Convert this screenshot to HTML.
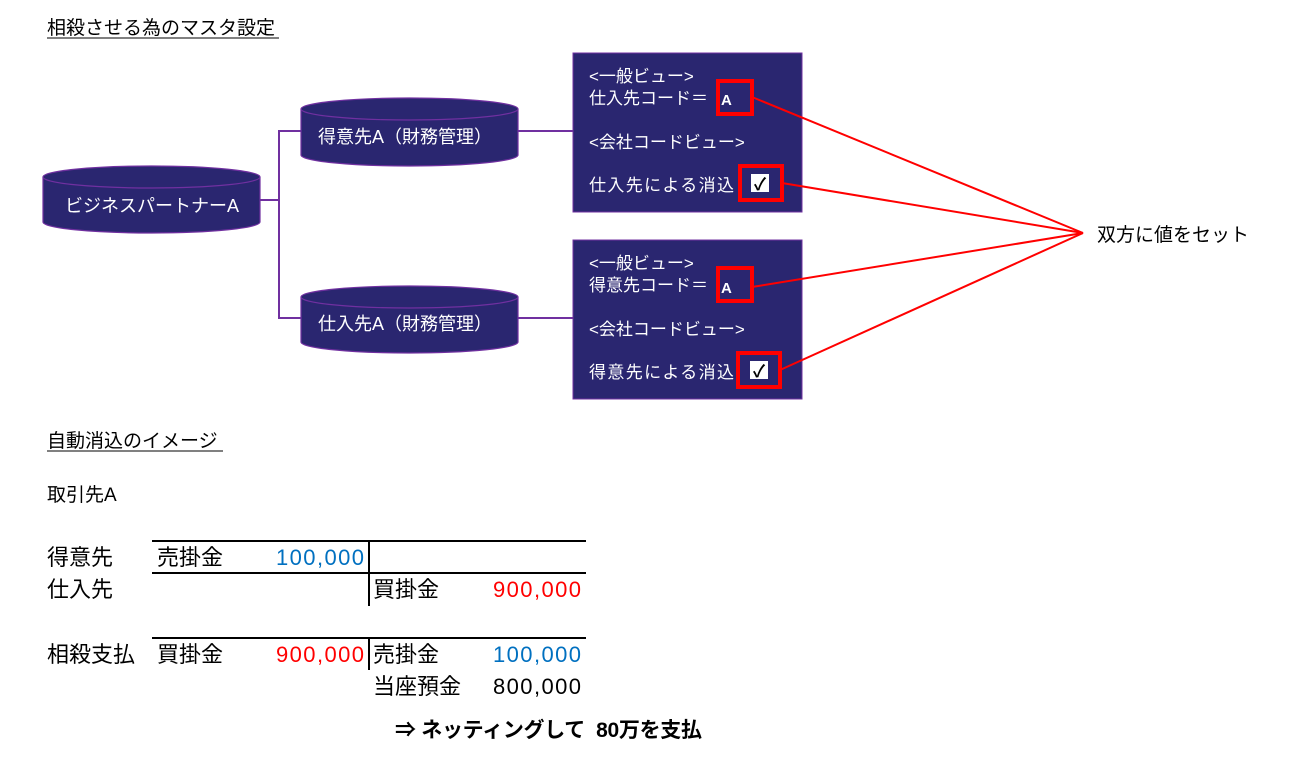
<!DOCTYPE html>
<html><head><meta charset="utf-8"><style>
html,body{margin:0;padding:0;background:#fff;}
svg text{font-family:"Liberation Sans","Noto Sans CJK JP",sans-serif;}
</style></head><body>
<svg width="1299" height="764" viewBox="0 0 1299 764" xmlns="http://www.w3.org/2000/svg">
<g font-size="19" fill="#000">
<text x="47" y="34">相殺させる為のマスタ設定</text>
<line x1="47" y1="38" x2="279" y2="38" stroke="#000" stroke-width="1"/>
</g>
<g stroke="#7030a0" stroke-width="2" fill="none">
<polyline points="260,200 279,200"/>
<polyline points="301,131 279,131 279,318 301,318"/>
<line x1="518" y1="131" x2="573" y2="131"/>
<line x1="518" y1="318" x2="573" y2="318"/>
</g>
<g fill="#2a2670" stroke="#7030a0" stroke-width="1.2">
<path d="M43,177 L43,222 A108.5,11 0 0 0 260,222 L260,177 A108.5,11 0 0 0 43,177 Z"/>
<path d="M43,177 A108.5,11 0 0 0 260,177" fill="none"/>
<path d="M301,109 L301,155 A108.5,11 0 0 0 518,155 L518,109 A108.5,11 0 0 0 301,109 Z"/>
<path d="M301,109 A108.5,11 0 0 0 518,109" fill="none"/>
<path d="M301,297 L301,342 A108.5,11 0 0 0 518,342 L518,297 A108.5,11 0 0 0 301,297 Z"/>
<path d="M301,297 A108.5,11 0 0 0 518,297" fill="none"/>
</g>
<g fill="#fff" font-size="18" text-anchor="middle">
<text x="152" y="212">ビジネスパートナーA</text>
<text x="405" y="143">得意先A（財務管理）</text>
<text x="405" y="330">仕入先A（財務管理）</text>
</g>
<rect x="573" y="53" width="229" height="159" fill="#2a2670" stroke="#7030a0" stroke-width="1"/>
<rect x="573" y="240" width="229" height="159" fill="#2a2670" stroke="#7030a0" stroke-width="1"/>
<g fill="#fff" font-size="17">
<text x="589" y="82">&lt;一般ビュー&gt;</text>
<text x="589" y="104">仕入先コード＝</text>
<text x="721" y="105" font-size="15" font-weight="bold">A</text>
<text x="589" y="148">&lt;会社コードビュー&gt;</text>
<text x="589" y="191" textLength="145">仕入先による消込</text>
<text x="589" y="269">&lt;一般ビュー&gt;</text>
<text x="589" y="291">得意先コード＝</text>
<text x="721" y="293" font-size="15" font-weight="bold">A</text>
<text x="589" y="335">&lt;会社コードビュー&gt;</text>
<text x="589" y="378" textLength="145">得意先による消込</text>
</g>
<rect x="751" y="174" width="18" height="18" fill="#fff"/>
<text x="760" y="190" font-size="17" font-weight="bold" text-anchor="middle" fill="#000">✓</text>
<rect x="750" y="361" width="18" height="18" fill="#fff"/>
<text x="759" y="377" font-size="17" font-weight="bold" text-anchor="middle" fill="#000">✓</text>
<g stroke="#ff0000" fill="none">
<rect x="718" y="81" width="34" height="33" stroke-width="4"/>
<rect x="740" y="166" width="42" height="34" stroke-width="4"/>
<rect x="718" y="268" width="34" height="33" stroke-width="4"/>
<rect x="738" y="353" width="42" height="34" stroke-width="4"/>
<g stroke-width="2">
<line x1="752" y1="97" x2="1083" y2="233"/>
<line x1="782" y1="183" x2="1083" y2="233"/>
<line x1="752" y1="287" x2="1083" y2="233"/>
<line x1="780" y1="370" x2="1083" y2="233"/>
</g>
</g>
<text x="1097" y="241" font-size="19">双方に値をセット</text>
<g font-size="19">
<text x="47" y="447">自動消込のイメージ</text>
<line x1="47" y1="451" x2="223" y2="451" stroke="#000"/>
<text x="47" y="501">取引先A</text>
</g>
<g stroke="#000" stroke-width="2">
<line x1="152" y1="541" x2="586" y2="541"/>
<line x1="152" y1="573" x2="586" y2="573"/>
<line x1="369" y1="541" x2="369" y2="606"/>
<line x1="152" y1="638" x2="586" y2="638"/>
<line x1="369" y1="638" x2="369" y2="670"/>
</g>
<g font-size="22">
<text x="47" y="565">得意先</text>
<text x="157" y="565">売掛金</text>
<text x="276" y="565" fill="#0070c0" textLength="88">100,000</text>
<text x="47" y="597">仕入先</text>
<text x="373" y="597">買掛金</text>
<text x="493" y="597" fill="#ff0000" textLength="88">900,000</text>
<text x="47" y="662">相殺支払</text>
<text x="157" y="662">買掛金</text>
<text x="276" y="662" fill="#ff0000" textLength="88">900,000</text>
<text x="373" y="662">売掛金</text>
<text x="493" y="662" fill="#0070c0" textLength="88">100,000</text>
<text x="373" y="694">当座預金</text>
<text x="493" y="694" textLength="88">800,000</text>
<text x="395" y="737" font-size="21" font-weight="bold" textLength="307">⇒&#160;ネッティングして&#160;&#160;80万を支払</text>
</g>
</svg>
</body></html>
